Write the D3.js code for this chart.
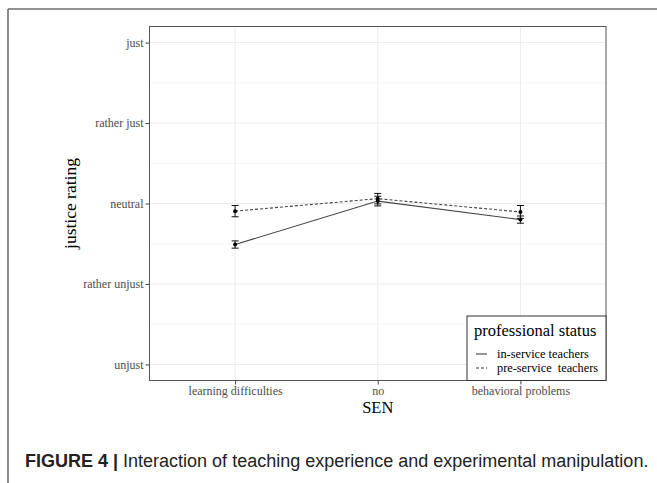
<!DOCTYPE html>
<html><head><meta charset="utf-8">
<script src="https://cdn.jsdelivr.net/npm/d3@7"></script>
<style>body{margin:0;background:#fff}svg{display:block}</style>
</head><body>
<svg id="c" width="657" height="483"></svg>
<script>
const categories = ["learning difficulties", "no", "behavioral problems"];
const yTickValues = [1, 2, 3, 4, 5];
const yTickLabels = ["unjust", "rather unjust", "neutral", "rather just", "just"];
const seriesNames = ["in-service teachers", "pre-service  teachers"];
const inService = [2.49, 3.03, 2.80];
const inServiceErr = [0.045, 0.06, 0.045];
const preService = [2.905, 3.06, 2.895];
const preServiceErr = [0.07, 0.065, 0.08];

const svg = d3.select("#c");
const serif = "'Liberation Serif','Times New Roman',serif";
const sans = "'Liberation Sans',Arial,Helvetica,sans-serif";

// outer frame (top + left)
svg.append("path").attr("d","M8,9H657M8,9V483").attr("fill","none").attr("stroke","#6e6e6e").attr("stroke-width",1.6);

const L = 149.5, T = 26.5, R = 606, B = 380.5;
// discrete scale with 0.6 expansion on each side
const xs = d3.scaleLinear().domain([0.4, 3.6]).range([L, R]);
const xPos = c => xs(categories.indexOf(c) + 1);
const y = d3.scaleLinear().domain([0.8, 5.2]).range([B, T]);

const g = svg.append("g");
const minors = d3.range(1.5, 5, 1);
g.selectAll(".mn").data(minors).join("line")
  .attr("x1", L).attr("x2", R).attr("y1", d => y(d)).attr("y2", d => y(d))
  .attr("stroke", "#f3f3f3").attr("stroke-width", 0.8);
g.selectAll(".mj").data(yTickValues).join("line")
  .attr("x1", L).attr("x2", R).attr("y1", d => y(d)).attr("y2", d => y(d))
  .attr("stroke", "#ebebeb").attr("stroke-width", 1);
g.selectAll(".mx").data(categories).join("line")
  .attr("x1", d => xPos(d)).attr("x2", d => xPos(d)).attr("y1", T).attr("y2", B)
  .attr("stroke", "#ebebeb").attr("stroke-width", 1);

const yAxis = d3.axisLeft(y).tickValues(yTickValues).tickFormat((d, i) => yTickLabels[i]).tickSize(4).tickPadding(2);
const ya = svg.append("g").attr("transform", `translate(${L},0)`).call(yAxis);
ya.select(".domain").remove();
ya.selectAll("line").attr("stroke", "#444");
ya.selectAll("text").attr("font-family", serif).attr("font-size", 12).attr("fill", "#4d4d4d");

const xAxis = d3.axisBottom(xs).tickValues([1, 2, 3]).tickFormat(d => categories[d - 1]).tickSize(4).tickPadding(2);
const xa = svg.append("g").attr("transform", `translate(0,${B})`).call(xAxis);
xa.select(".domain").remove();
xa.selectAll("line").attr("stroke", "#444");
xa.selectAll("text").attr("font-family", serif).attr("font-size", 12).attr("fill", "#4d4d4d");

const series = [
  {vals: inService, err: inServiceErr, dash: null},
  {vals: preService, err: preServiceErr, dash: "3,2"}
];
const line = d3.line().x((d, i) => xPos(categories[i])).y(d => y(d));
series.forEach(s => {
  svg.append("path").datum(s.vals).attr("d", line).attr("fill", "none")
    .attr("stroke", "#444").attr("stroke-width", 1.1)
    .attr("stroke-dasharray", s.dash);
});
series.forEach(s => {
  const eg = svg.append("g");
  s.vals.forEach((v, i) => {
    const cx = xPos(categories[i]);
    const y1 = y(v + s.err[i]), y2 = y(v - s.err[i]);
    eg.append("path").attr("d", `M${cx-3.5},${y1}H${cx+3.5}M${cx},${y1}V${y2}M${cx-3.5},${y2}H${cx+3.5}`)
      .attr("fill", "none").attr("stroke", "#111").attr("stroke-width", 1);
    eg.append("circle").attr("cx", cx).attr("cy", y(v)).attr("r", 2).attr("fill", "#000");
  });
});

svg.append("rect").attr("x", L).attr("y", T).attr("width", R - L).attr("height", B - T)
  .attr("fill", "none").attr("stroke", "#555").attr("stroke-width", 1);

const lg = svg.append("g");
lg.append("rect").attr("x", 467).attr("y", 316).attr("width", R - 467).attr("height", B - 316)
  .attr("fill", "#fff").attr("stroke", "#333").attr("stroke-width", 1);
lg.append("text").attr("x", 474).attr("y", 336).attr("font-family", serif).attr("font-size", 16.5)
  .attr("fill", "#000").text("professional status");
[358, 372].forEach((yy, i) => {
  lg.append("line").attr("x1", 476).attr("x2", 487).attr("y1", yy - 4).attr("y2", yy - 4)
    .attr("stroke", "#333").attr("stroke-width", 1).attr("stroke-dasharray", series[i].dash);
  lg.append("text").attr("x", 497).attr("y", yy).attr("font-family", serif).attr("font-size", 12.3)
    .attr("fill", "#000").attr("xml:space", "preserve").style("white-space", "pre").text(seriesNames[i]);
});

svg.append("text").attr("x", (L + R) / 2).attr("y", 413).attr("text-anchor", "middle")
  .attr("font-family", serif).attr("font-size", 16.5).attr("fill", "#000").text("SEN");
svg.append("text").attr("transform", `translate(76,${(T + B) / 2}) rotate(-90)`).attr("text-anchor", "middle")
  .attr("font-family", serif).attr("font-size", 17.5).attr("fill", "#000").text("justice rating");

const cap = svg.append("text").attr("x", 25).attr("y", 467).attr("font-family", sans).attr("font-size", 16).attr("fill", "#222");
cap.append("tspan").attr("font-weight", "bold").text("FIGURE 4 | ");
cap.append("tspan").text("Interaction of teaching experience and experimental manipulation.");
const w = cap.node().getComputedTextLength();
cap.attr("font-size", 16 * 624 / w);
</script>
</body></html>
